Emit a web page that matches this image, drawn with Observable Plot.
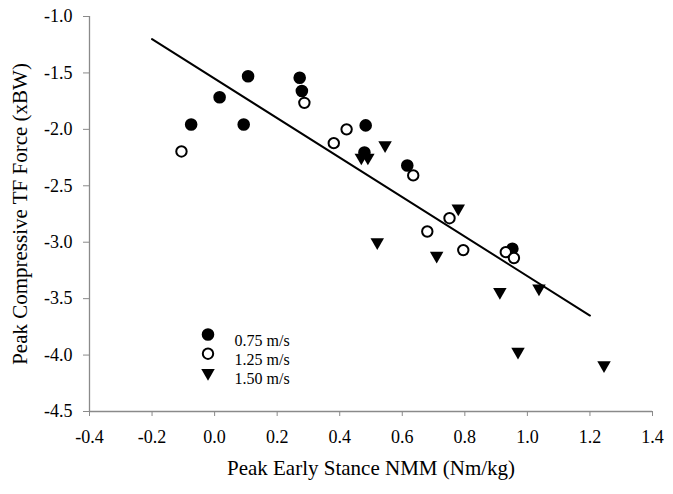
<!DOCTYPE html>
<html>
<head>
<meta charset="utf-8">
<script src="https://cdn.jsdelivr.net/npm/d3@7"></script>
<script src="https://cdn.jsdelivr.net/npm/@observablehq/plot@0.6"></script>
<style>
  html, body { margin: 0; padding: 0; background: #fff; }
</style>
</head>
<body>
<div id="chart"></div>
<script>
// ---- Data ----
const seriesNames = ["0.75 m/s", "1.25 m/s", "1.50 m/s"];

const slowX = [-0.075, 0.016, 0.107, 0.093, 0.272, 0.279, 0.483, 0.479, 0.616, 0.952];
const slowY = [-1.957, -1.715, -1.53, -1.957, -1.543, -1.66, -1.965, -2.205, -2.32, -3.058];

const midX = [-0.106, 0.287, 0.381, 0.422, 0.635, 0.751, 0.68, 0.795, 0.931, 0.957];
const midY = [-2.196, -1.765, -2.122, -2.0, -2.408, -2.787, -2.905, -3.07, -3.088, -3.14];

const fastX = [0.545, 0.469, 0.49, 0.779, 0.52, 0.71, 0.912, 1.037, 0.97, 1.245];
const fastY = [-2.14, -2.25, -2.25, -2.7, -3.0, -3.12, -3.44, -3.41, -3.97, -4.09];

const fitX = [-0.2, 1.2];
const fitY = [-1.2, -3.65];

const xTicks = [-0.4, -0.2, 0.0, 0.2, 0.4, 0.6, 0.8, 1.0, 1.2, 1.4];
const yTicks = [-1.0, -1.5, -2.0, -2.5, -3.0, -3.5, -4.0, -4.5];

const xTitle = "Peak Early Stance NMM (Nm/kg)";
const yTitle = "Peak Compressive TF Force (xBW)";

// ---- Build tables ----
const toRows = (xs, ys) => xs.map((x, i) => ({x, y: ys[i]}));
const slow = toRows(slowX, slowY);
const mid = toRows(midX, midY);
const fast = toRows(fastX, fastY);
const fit = toRows(fitX, fitY);

const axisGray = "#8a8a8a";
const styles = [
  {symbol: "circle", fill: "black", stroke: "black", strokeWidth: 2, r: 5.3, rotate: 0},
  {symbol: "circle", fill: "white", stroke: "black", strokeWidth: 2, r: 5.2, rotate: 0},
  {symbol: "triangle", fill: "black", stroke: "none", strokeWidth: 0, r: 5, rotate: 180}
];

const legendMarks = [];
seriesNames.forEach((name, i) => {
  const s = styles[i];
  legendMarks.push(Plot.dot([name], {
    frameAnchor: "top-left", dx: 118.5, dy: 318 + i * 19.2,
    symbol: s.symbol, fill: s.fill, stroke: s.stroke, strokeWidth: s.strokeWidth, r: s.r, rotate: s.rotate
  }));
  legendMarks.push(Plot.text([name], {
    frameAnchor: "top-left", dx: 145, dy: 318 + i * 19.2,
    text: d => d, textAnchor: "start", fontSize: 16, fill: "black"
  }));
});

const chart = Plot.plot({
  width: 673,
  height: 494,
  marginLeft: 89,
  marginRight: 21,
  marginTop: 16,
  marginBottom: 83,
  style: {fontFamily: "'Liberation Serif', 'Times New Roman', serif", background: "white", color: "black"},
  x: {domain: [-0.4, 1.4]},
  y: {domain: [-4.5, -1.0]},
  marks: [
    Plot.ruleX([-0.4], {stroke: axisGray, strokeWidth: 1.3}),
    Plot.ruleY([-4.5], {stroke: axisGray, strokeWidth: 1.3}),
    Plot.axisX({ticks: xTicks, tickSize: 5, tickPadding: 14, stroke: axisGray, fill: "black",
      fontSize: 18, tickFormat: d => d.toFixed(1), label: null}),
    Plot.axisY({ticks: yTicks, tickSize: 6, tickPadding: 11, stroke: axisGray, fill: "black",
      fontSize: 18, tickFormat: d => d.toFixed(1), label: null}),
    Plot.line(fit, {x: "x", y: "y", stroke: "black", strokeWidth: 2}),
    Plot.dot(slow, {x: "x", y: "y", ...styles[0]}),
    Plot.dot(mid, {x: "x", y: "y", ...styles[1]}),
    Plot.dot(fast, {x: "x", y: "y", ...styles[2]}),
    ...legendMarks,
    Plot.text([xTitle], {frameAnchor: "bottom", dy: 63, text: d => d, lineAnchor: "bottom",
      textAnchor: "middle", fontSize: 21, fill: "black"}),
    Plot.text([yTitle], {frameAnchor: "left", dx: -62.5, text: d => d, lineAnchor: "bottom",
      textAnchor: "middle", rotate: -90, fontSize: 21, fill: "black"})
  ]
});
document.getElementById("chart").appendChild(chart);
</script>
</body>
</html>
